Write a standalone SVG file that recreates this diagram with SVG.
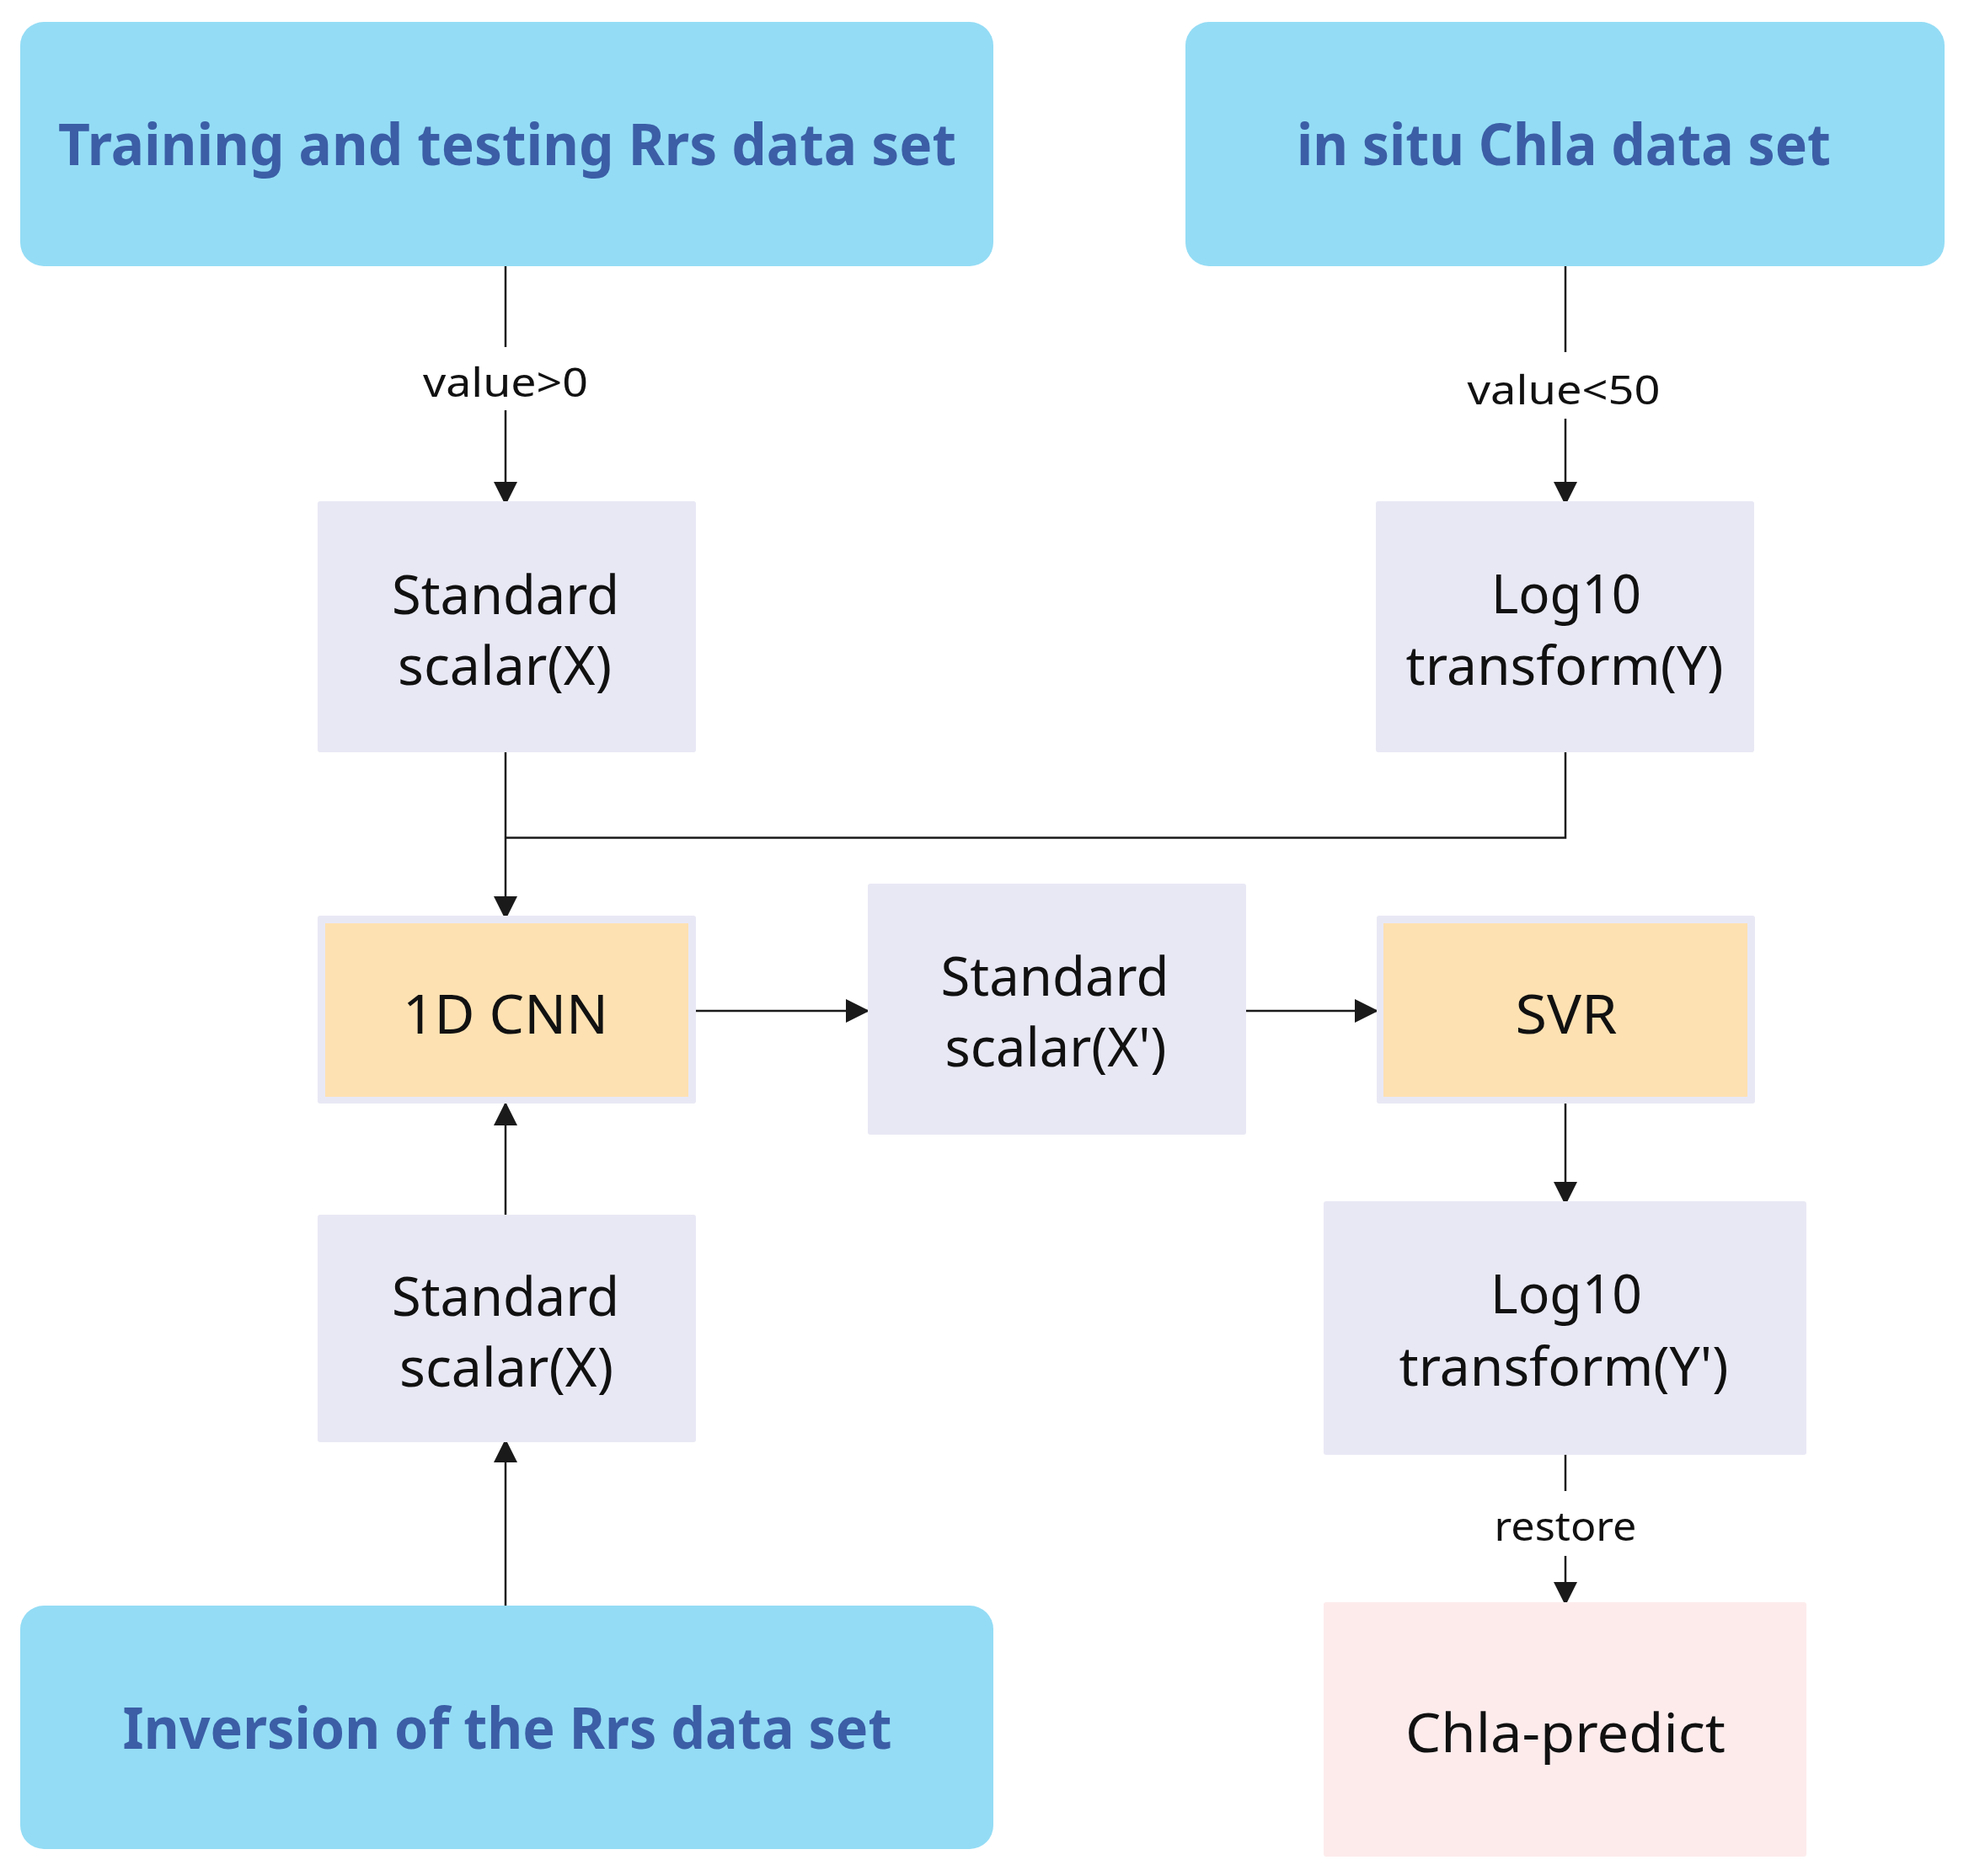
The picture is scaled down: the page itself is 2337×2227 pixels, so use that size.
<svg xmlns="http://www.w3.org/2000/svg" width="2337" height="2227" viewBox="0 0 2337 2227">
<style>
.blue{fill:#94DCF5}
.lav{fill:#E8E8F5}
.org{fill:#FEE1B2}
.pink{fill:#FDEBEC}
.tb{font-family:"Noto Sans","Open Sans",sans-serif;font-weight:bold;font-size:68px;fill:#3B5EA6;text-anchor:middle}
.tn{font-family:"Noto Sans","Open Sans",sans-serif;font-size:63px;fill:#111111;text-anchor:middle}
.tl{font-family:"Noto Sans","Open Sans",sans-serif;font-size:48px;fill:#111111;text-anchor:middle}
.ln{fill:none;stroke:#1a1a1a;stroke-width:2.5}
</style>
<defs>
<marker id="ah" markerUnits="userSpaceOnUse" markerWidth="28" markerHeight="28" refX="28" refY="14" orient="auto" viewBox="0 0 28 28">
<path d="M0,0 L28,14 L0,28 z" fill="#1a1a1a"/>
</marker>
</defs>
<rect width="2337" height="2227" fill="#ffffff"/>

<g id="connectors">
<line class="ln" x1="600" y1="316" x2="600" y2="412"/>
<line class="ln" x1="600" y1="487" x2="600" y2="600" marker-end="url(#ah)"/>
<text class="tl" x="600" y="471" textLength="196" lengthAdjust="spacingAndGlyphs">value&gt;0</text>
<line class="ln" x1="1858" y1="316" x2="1858" y2="418"/>
<line class="ln" x1="1858" y1="497" x2="1858" y2="600" marker-end="url(#ah)"/>
<text class="tl" x="1856" y="480" textLength="229" lengthAdjust="spacingAndGlyphs">value&lt;50</text>
<line class="ln" x1="600" y1="893" x2="600" y2="1092" marker-end="url(#ah)"/>
<polyline class="ln" points="1858,892 1858,994.5 600,994.5"/>
<line class="ln" x1="821" y1="1200" x2="1032" y2="1200" marker-end="url(#ah)"/>
<line class="ln" x1="1475" y1="1200" x2="1636" y2="1200" marker-end="url(#ah)"/>
<line class="ln" x1="600" y1="1442" x2="600" y2="1308" marker-end="url(#ah)"/>
<line class="ln" x1="600" y1="1906" x2="600" y2="1708" marker-end="url(#ah)"/>
<line class="ln" x1="1858" y1="1305" x2="1858" y2="1431" marker-end="url(#ah)"/>
<line class="ln" x1="1858" y1="1722" x2="1858" y2="1770"/>
<line class="ln" x1="1858" y1="1847" x2="1858" y2="1906" marker-end="url(#ah)"/>
<text class="tl" x="1858" y="1829" textLength="169" lengthAdjust="spacingAndGlyphs">restore</text>
</g>

<g id="n_train">
<rect class="blue" x="24" y="26" width="1155" height="290" rx="28"/>
<text class="tb" x="602" y="196" textLength="1066" lengthAdjust="spacingAndGlyphs">Training and testing Rrs data set</text>
</g>
<g id="n_insitu">
<rect class="blue" x="1407" y="26" width="901" height="290" rx="28"/>
<text class="tb" x="1856" y="196" textLength="634" lengthAdjust="spacingAndGlyphs">in situ Chla data set</text>
</g>
<g id="n_std1">
<rect class="lav" x="377" y="595" width="449" height="298" rx="3"/>
<text class="tn" x="600" y="729" textLength="270" lengthAdjust="spacingAndGlyphs">Standard</text>
<text class="tn" x="599" y="813" textLength="254" lengthAdjust="spacingAndGlyphs">scalar(X)</text>
</g>
<g id="n_log1">
<rect class="lav" x="1633" y="595" width="449" height="298" rx="3"/>
<text class="tn" x="1859" y="728" textLength="178" lengthAdjust="spacingAndGlyphs">Log10</text>
<text class="tn" x="1857" y="813" textLength="377" lengthAdjust="spacingAndGlyphs">transform(Y)</text>
</g>
<g id="n_cnn">
<rect class="lav" x="377" y="1087" width="449" height="223" rx="3"/>
<rect class="org" x="386" y="1096" width="431" height="206"/>
<text class="tn" x="600" y="1227" textLength="244" lengthAdjust="spacingAndGlyphs">1D CNN</text>
</g>
<g id="n_std2">
<rect class="lav" x="1030" y="1049" width="449" height="298" rx="3"/>
<text class="tn" x="1252" y="1182" textLength="271" lengthAdjust="spacingAndGlyphs">Standard</text>
<text class="tn" x="1253" y="1266" textLength="263" lengthAdjust="spacingAndGlyphs">scalar(X')</text>
</g>
<g id="n_svr">
<rect class="lav" x="1634" y="1087" width="449" height="223" rx="3"/>
<rect class="org" x="1642" y="1096" width="432" height="206"/>
<text class="tn" x="1859" y="1227" textLength="121" lengthAdjust="spacingAndGlyphs">SVR</text>
</g>
<g id="n_std3">
<rect class="lav" x="377" y="1442" width="449" height="270" rx="3"/>
<text class="tn" x="600" y="1562" textLength="270" lengthAdjust="spacingAndGlyphs">Standard</text>
<text class="tn" x="601" y="1646" textLength="254" lengthAdjust="spacingAndGlyphs">scalar(X)</text>
</g>
<g id="n_log2">
<rect class="lav" x="1571" y="1426" width="573" height="301" rx="3"/>
<text class="tn" x="1859" y="1559" textLength="180" lengthAdjust="spacingAndGlyphs">Log10</text>
<text class="tn" x="1856" y="1645" textLength="391" lengthAdjust="spacingAndGlyphs">transform(Y')</text>
</g>
<g id="n_inv">
<rect class="blue" x="24" y="1906" width="1155" height="289" rx="28"/>
<text class="tb" x="602" y="2076" textLength="913" lengthAdjust="spacingAndGlyphs">Inversion of the Rrs data set</text>
</g>
<g id="n_pred">
<rect class="pink" x="1571" y="1902" width="573" height="302" rx="3"/>
<text class="tn" x="1858" y="2080" textLength="380" lengthAdjust="spacingAndGlyphs">Chla-predict</text>
</g>
</svg>
